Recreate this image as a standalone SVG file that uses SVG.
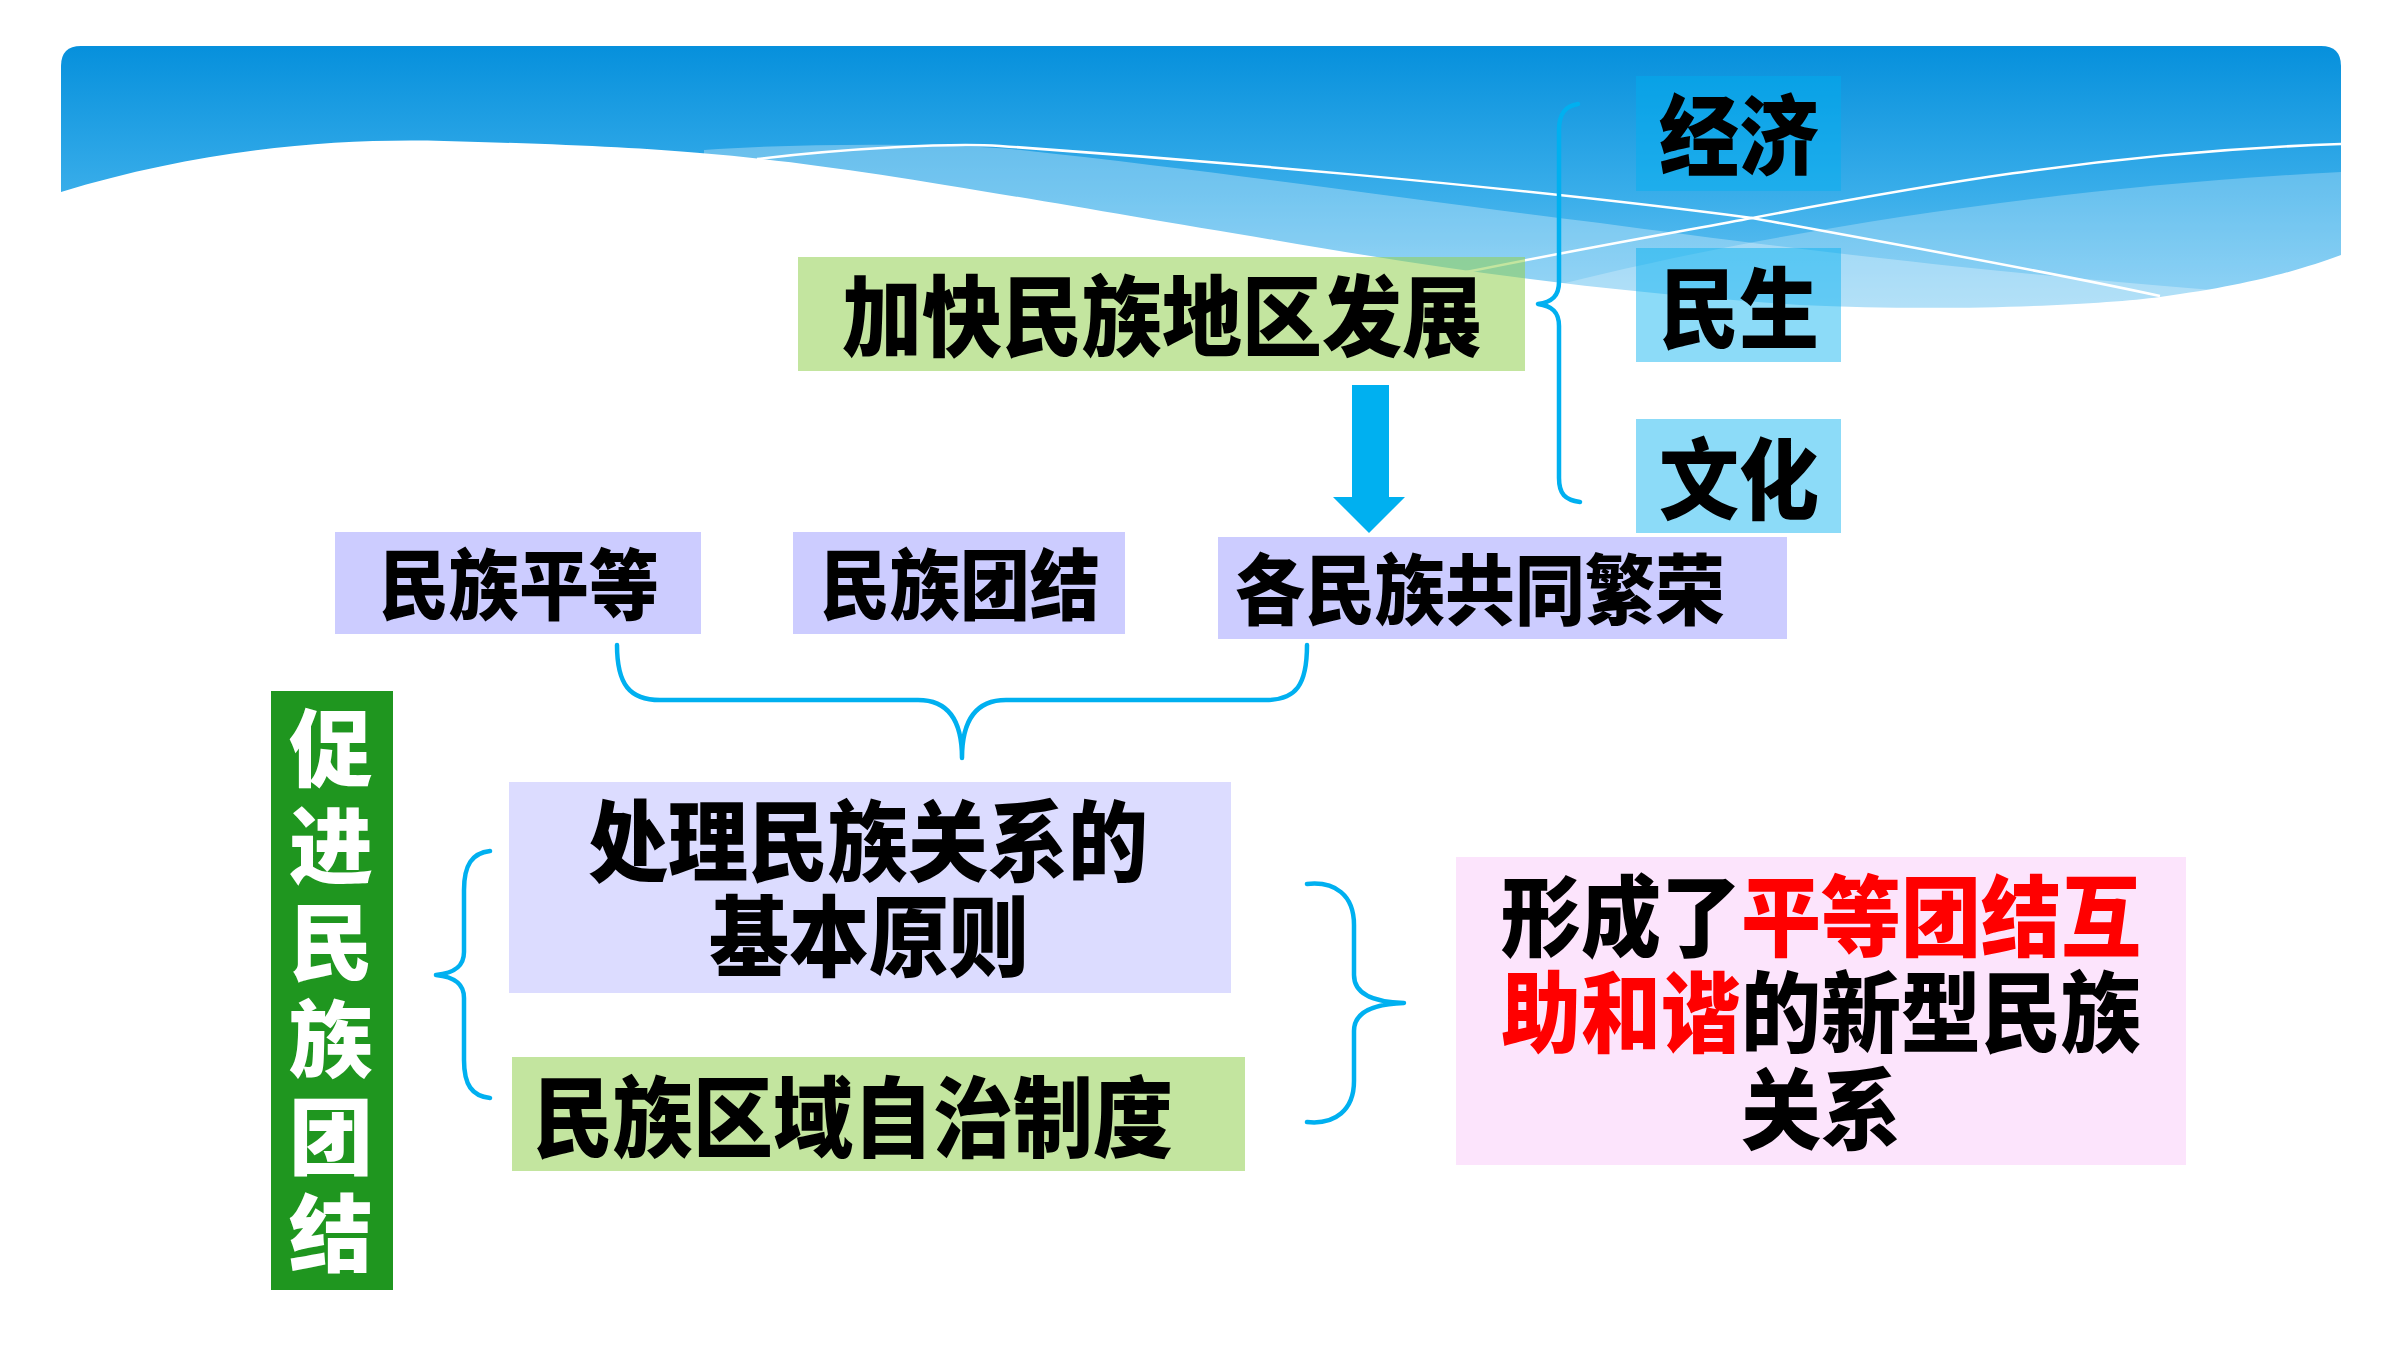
<svg xmlns="http://www.w3.org/2000/svg" width="2400" height="1350" viewBox="0 0 2400 1350">
<defs>
<linearGradient id="bandGrad" gradientUnits="userSpaceOnUse" x1="0" y1="46" x2="0" y2="320">
<stop offset="0" stop-color="#0690dc"/>
<stop offset="0.55" stop-color="#3aaeea"/>
<stop offset="1" stop-color="#74c8f3"/>
</linearGradient>
<clipPath id="bandClip">
<path d="M61,66 Q61,46 81,46 L2321,46 Q2341,46 2341,66 L2341,340 L61,340 Z"/>
</clipPath>
</defs>
<style>
.t{font-family:"Noto Sans CJK SC","Noto Sans",sans-serif;font-weight:900;fill:#000;text-anchor:middle;dominant-baseline:central}
.big{font-size:80px}
.mid{font-size:70px}
.red{fill:#ff0000}
.green{fill:#92d050;fill-opacity:0.55}
.lav{fill:#ccccff}
.blue{fill:#00b0f0;fill-opacity:0.45}
.brace{fill:none;stroke:#00b0f0;stroke-width:4.5;stroke-linecap:round;stroke-linejoin:round}
.wl{fill:none;stroke:#ffffff;stroke-width:2.5}
</style>
<rect width="2400" height="1350" fill="#ffffff"/>
<g id="header" clip-path="url(#bandClip)">
<rect x="61" y="46" width="2280" height="300" fill="url(#bandGrad)"/>
<path d="M704,150 C800,143 950,143 1021,150 C1250,175 1450,205 1600,223 C1800,250 2000,275 2341,300 L2341,340 L700,340 Z" fill="#ffffff" fill-opacity="0.3"/>
<path d="M1500,300 C1700,245 2000,190 2341,172 L2341,340 L1500,340 Z" fill="#ffffff" fill-opacity="0.25"/>
<path d="M61,192 C200,150 330,138 444,141 C560,144 640,148 700,153 C850,165 1000,195 1274,240 C1450,270 1600,292 1800,305 C1950,312 2100,305 2160,297 C2250,285 2300,270 2341,255 L2341,345 L61,345 Z" fill="#ffffff"/>
<path class="wl" d="M757,159 C850,148 950,143 1000,146 C1200,160 1500,185 1752,218 C1900,245 2050,272 2160,296"/>
<path class="wl" d="M1466,272 C1600,245 1700,228 1752,218 C1900,190 2100,152 2341,144"/>
</g>
<g id="connectors">
<path class="brace" d="M1578,104 C1565,106 1559,114 1559,130 L1559,282 C1559,296 1552,302 1538,304 C1552,306 1559,312 1559,326 L1559,478 C1559,494 1565,500 1580,502"/>
<path d="M1352,385 L1389,385 L1389,497 L1405,497 L1369,533 L1333,497 L1352,497 Z" fill="#00b0f0"/>
<path class="brace" d="M617,645 C617,685 630,700 660,700 L918,700 C948,700 962,720 962,758 C962,720 976,700 1006,700 L1266,700 C1296,700 1307,685 1307,645"/>
<path class="brace" d="M490,851 C472,853 464,865 464,890 L464,952 C464,966 455,973 436,975 C455,977 464,984 464,998 L464,1060 C464,1085 472,1096 490,1098"/>
<path class="brace" d="M1307,884 C1335,881 1354,895 1354,925 L1354,975 C1354,993 1372,1002 1404,1003 C1372,1004 1354,1013 1354,1031 L1354,1081 C1354,1110 1335,1125 1307,1122"/>
</g>
<g id="node-jiakuai">
<rect class="green" x="798" y="257" width="727" height="114"/>
<text class="t big" transform="translate(1162,310) scale(1,1.1)">加快民族地区发展</text>
</g>
<g id="node-jingji">
<rect class="blue" x="1636" y="76" width="205" height="115"/>
<text class="t big" transform="translate(1739,129) scale(1,1.1)">经济</text>
</g>
<g id="node-minsheng">
<rect class="blue" x="1636" y="248" width="205" height="114"/>
<text class="t big" transform="translate(1739,302) scale(1,1.1)">民生</text>
</g>
<g id="node-wenhua">
<rect class="blue" x="1636" y="419" width="205" height="114"/>
<text class="t big" transform="translate(1739,473) scale(1,1.1)">文化</text>
</g>
<g id="node-pingdeng">
<rect class="lav" x="335" y="532" width="366" height="102"/>
<text class="t mid" transform="translate(519,581) scale(1,1.1)">民族平等</text>
</g>
<g id="node-tuanjie">
<rect class="lav" x="793" y="532" width="332" height="102"/>
<text class="t mid" transform="translate(960,581) scale(1,1.1)">民族团结</text>
</g>
<g id="node-fanrong">
<rect class="lav" x="1218" y="537" width="569" height="102"/>
<text class="t mid" transform="translate(1480,586) scale(1,1.1)">各民族共同繁荣</text>
</g>
<g id="node-cujin">
<rect x="271" y="691" width="122" height="599" fill="#1f961f"/>
<text class="t" style="fill:#ffffff;font-size:84px;writing-mode:vertical-rl;text-anchor:start;letter-spacing:13px" x="331" y="706">促进民族团结</text>
</g>
<g id="node-yuanze">
<rect x="509" y="782" width="722" height="211" fill="#dcdcff"/>
<text class="t big" transform="translate(868,835) scale(1,1.1)"><tspan x="0" y="0">处理民族关系的</tspan><tspan x="1" dy="87">基本原则</tspan></text>
</g>
<g id="node-zhidu">
<rect class="green" x="512" y="1057" width="733" height="114"/>
<text class="t big" transform="translate(853,1111) scale(1,1.1)">民族区域自治制度</text>
</g>
<g id="node-guanxi">
<rect x="1456" y="857" width="730" height="308" fill="#fce4fc"/>
<text class="t big" transform="translate(1821,910) scale(1,1.1)"><tspan x="0" y="0">形成了<tspan class="red">平等团结互</tspan></tspan><tspan x="0" dy="87.5"><tspan class="red">助和谐</tspan>的新型民族</tspan><tspan x="0" dy="88">关系</tspan></text>
</g>
</svg>
